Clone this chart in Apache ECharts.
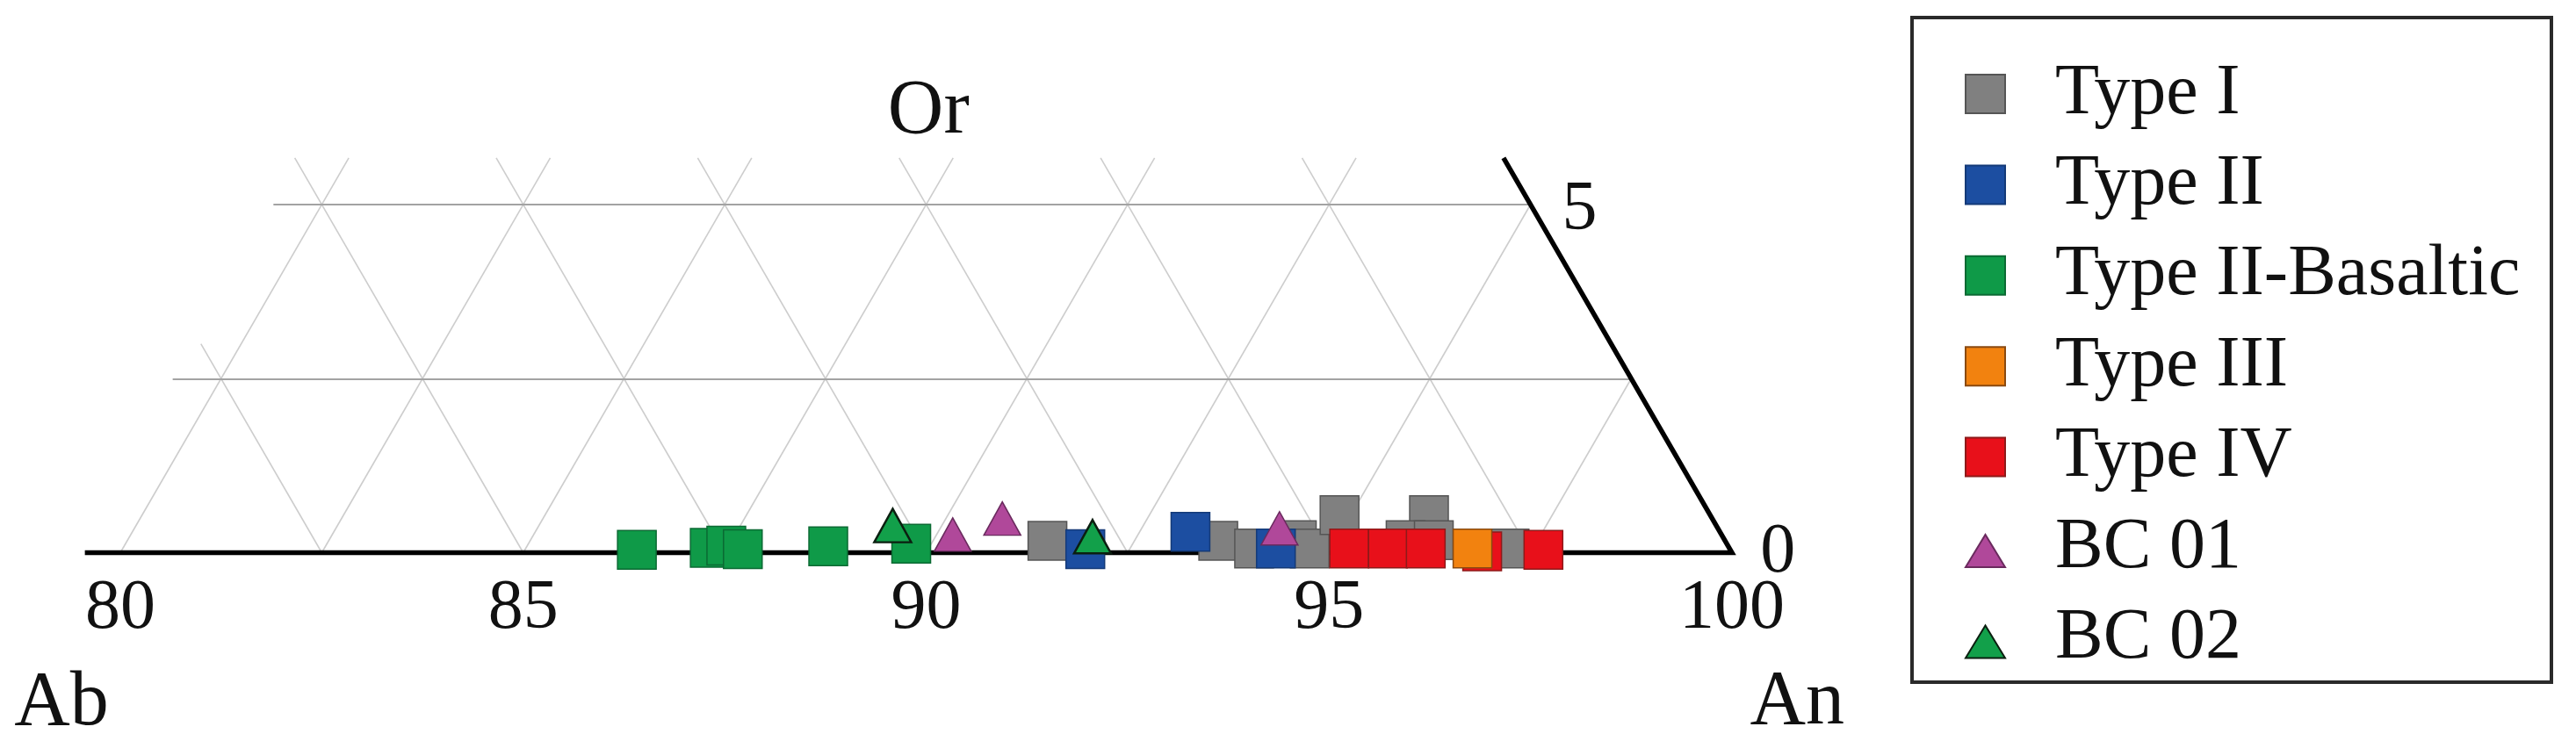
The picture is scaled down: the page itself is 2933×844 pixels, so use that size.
<!DOCTYPE html>
<html>
<head>
<meta charset="utf-8">
<script src="https://cdn.jsdelivr.net/npm/echarts@6/dist/echarts.min.js"></script>
<style>
  html, body { margin: 0; padding: 0; background: #fff; }
  #chart { width: 2933px; height: 844px; }
</style>
</head>
<body>
<div id="chart"></div>
<script>
// An (%) and Or (%), Ab = 100 - An - Or
const typeI = [[91.42, 0.17], [93.54, 0.17], [94.04, 0.06], [94.51, 0.18], [94.73, 0.06],
  [94.86, 0.54], [95.97, 0.54], [95.86, 0.18], [96.21, 0.18], [97.21, 0.06]];
const typeII = [[91.95, 0.05], [93.13, 0.30], [94.31, 0.06]];
const typeIIBasaltic = [[86.39, 0.04], [87.28, 0.07], [87.47, 0.10], [87.70, 0.05],
  [88.74, 0.09], [89.75, 0.13]];
const typeIII = [[96.75, 0.06]];
const typeIV = [[95.22, 0.06], [95.70, 0.06], [96.17, 0.06], [96.89, 0.02], [97.64, 0.04]];
const bc01 = [[90.20, 0.26], [90.70, 0.49], [94.21, 0.35]];
const bc02 = [[89.39, 0.39], [91.95, 0.23]];

const anTicks = [80, 85, 90, 95, 100];
const gridStep = 2.5;

const FONT = "Liberation Serif";
const INK = "#111111";
const TOP = 5.67; // where the grid lines stop above the Or = 5 line

// ternary (An, Or) -> plot position, vertical axis stretched
function tern(an, or) {
  return [an + or / 2, or];
}
function pts(arr) {
  return arr.map((d) => tern(d[0], d[1]));
}

// light diagonal grid: constant An and constant Ab lines
const diag = [];
for (let an = anTicks[0]; an < 100; an += gridStep) {
  const end = Math.min(TOP, 100 - an);
  diag.push({ coords: [tern(an, 0), tern(an, end)] });
}
for (let ab = 17.5; ab > 0; ab -= gridStep) {
  const end = ab > 16 ? 3.0 : TOP;
  diag.push({ coords: [tern(100 - ab, 0), tern(100 - ab - end, end)] });
}
// horizontal Or lines
const horiz = [2.5, 5].map((or) => ({
  coords: [tern(79.4, or), tern(100 - or, or)],
}));
// black frame: Ab-An side and the Or edge
const frame = [{ coords: [[79.56, 0], tern(100, 0), tern(100 - TOP, TOP)] }];

const chart = echarts.init(document.getElementById("chart"));

const sq = 44;
const tri = [42, 38];
const triIcon = "path://M0,0M0,44L22.5,7L45,44Z";

function squares(name, data, color, border, z) {
  return {
    name, type: "scatter", data: pts(data), symbol: "rect", symbolSize: sq,
    clip: false, z,
    itemStyle: { color, borderColor: border, borderWidth: 1.5, opacity: 1 },
  };
}
function triangles(name, data, color, border, bw, z) {
  return {
    name, type: "scatter", data: pts(data), symbol: "triangle", symbolSize: tri,
    clip: false, z,
    itemStyle: { color, borderColor: border, borderWidth: bw, opacity: 1 },
  };
}

function textMark(x, y, text, size) {
  return {
    value: [x, y], name: text,
    label: { show: true, position: "inside", formatter: text, fontSize: size,
      fontFamily: FONT, color: INK, opacity: 1 },
  };
}

const option = {
  backgroundColor: "#fff",
  animation: false,
  grid: { left: 137, width: 1835, top: 74.4, height: 555.1 },
  xAxis: {
    type: "value", min: 80, max: 100, interval: 5,
    axisLine: { show: false }, axisTick: { show: false }, splitLine: { show: false },
    axisLabel: {
      fontSize: 80, fontFamily: FONT, color: INK, margin: 24,
      showMinLabel: true, showMaxLabel: true,
    },
  },
  yAxis: { type: "value", min: 0, max: 7, show: false },
  legend: {
    orient: "vertical", left: 2232, top: 61, itemWidth: 45, itemHeight: 44,
    itemGap: 21.4, selectedMode: false, height: 760,
    textStyle: { fontSize: 82, fontFamily: FONT, color: INK, padding: [0, 0, 0, 52] },
    data: [
      "Type I", "Type II", "Type II-Basaltic", "Type III", "Type IV",
      { name: "BC 01", icon: triIcon }, { name: "BC 02", icon: triIcon },
    ],
  },
  graphic: [{
    type: "rect", shape: { x: 2177, y: 20, width: 728, height: 757 },
    style: { fill: null, stroke: "#2a2a2a", lineWidth: 4 },
  }],
  series: [
    {
      type: "lines", coordinateSystem: "cartesian2d", clip: false, silent: true, z: 1,
      data: diag, lineStyle: { color: "#cdcdcd", width: 1.6, opacity: 1 },
    },
    {
      type: "lines", coordinateSystem: "cartesian2d", clip: false, silent: true, z: 1,
      data: horiz, lineStyle: { color: "#a3a3a3", width: 2, opacity: 1 },
    },
    {
      type: "lines", coordinateSystem: "cartesian2d", polyline: true, clip: false,
      silent: true, z: 1,
      data: frame, lineStyle: { color: "#000", width: 5.5, opacity: 1, join: "miter" },
    },
    squares("Type I", typeI, "#808080", "#555555", 2),
    squares("Type II", typeII, "#1c4ea1", "#143a78", 3),
    squares("Type II-Basaltic", typeIIBasaltic, "#0f9a48", "#0b6a33", 3),
    squares("Type III", typeIII, "#f2820f", "#8a4a10", 5),
    squares("Type IV", typeIV, "#e8101a", "#8e1a1a", 4),
    triangles("BC 01", bc01, "#b0489a", "#6a2a5e", 1.5, 6),
    triangles("BC 02", bc02, "#12a04a", "#0b1f10", 2.5, 6),
    {
      type: "scatter", symbolSize: 0, clip: false, silent: true, z: 7,
      itemStyle: { opacity: 1 },
      data: [
        textMark(90.03, 6.33, "Or", 88),
        textMark(98.11, 4.91, "5", 80),
        textMark(100.57, 0.0, "0", 80),
        textMark(79.27, -2.17, "Ab", 88),
        textMark(100.81, -2.16, "An", 88),
      ],
    },
  ],
};

chart.setOption(option);
window.addEventListener("resize", () => chart.resize());
</script>
</body>
</html>
